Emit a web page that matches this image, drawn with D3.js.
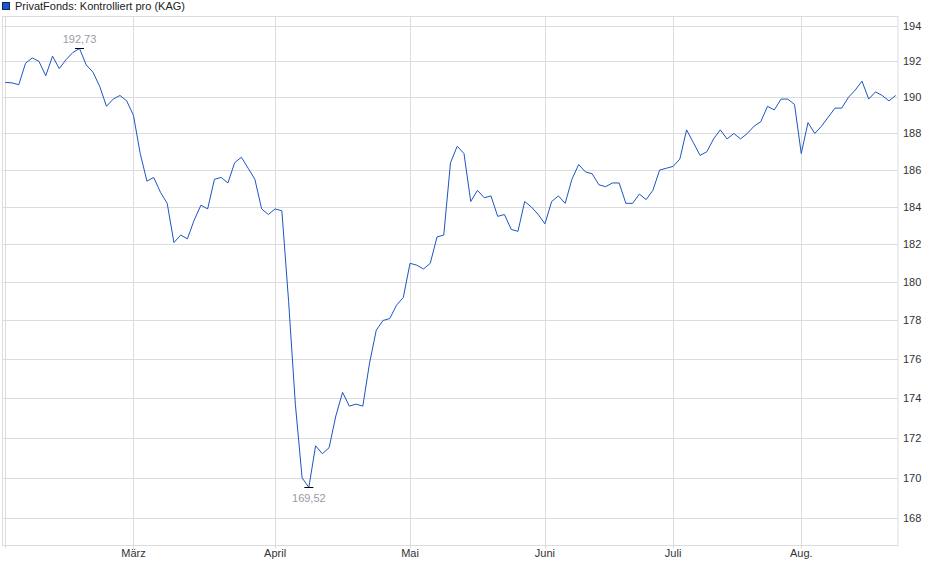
<!DOCTYPE html>
<html>
<head>
	<meta charset="UTF-8" />
	<title>PrivatFonds: Kontrolliert pro</title>
	<script src="https://d3js.org/d3.v7.min.js"></script>
	<style>
		body { margin: 0; background: #fff; }
		svg { display: block; font-family: "Liberation Sans", Arial, sans-serif; }
	</style>
</head>
<body>
	<svg id="chart" width="940" height="579"></svg>

	<script type="text/javascript">
	// series: one value per trading day
	const values = [
		190.83, 190.8, 190.7, 191.9, 192.2, 192.0, 191.2, 192.3, 191.6, 192.1,
		192.5, 192.73, 191.8, 191.4, 190.6, 189.5, 189.9, 190.1, 189.8, 189.0,
		186.9, 185.4, 185.6, 184.8, 184.2, 182.1, 182.5, 182.3, 183.3, 184.1,
		183.9, 185.5, 185.6, 185.3, 186.4, 186.7, 186.1, 185.5, 183.9, 183.6,
		183.9, 183.8, 179.0, 173.7, 170.0, 169.52, 171.6, 171.2, 171.5, 173.1,
		174.3, 173.6, 173.7, 173.6, 175.8, 177.5, 178.0, 178.1, 178.8, 179.2,
		181.0, 180.9, 180.7, 181.0, 182.4, 182.5, 186.4, 187.3, 186.9, 184.3,
		184.9, 184.5, 184.6, 183.5, 183.6, 182.8, 182.7, 184.3, 184.0, 183.6,
		183.1, 184.3, 184.6, 184.2, 185.5, 186.3, 185.9, 185.8, 185.2, 185.1,
		185.3, 185.3, 184.2, 184.2, 184.7, 184.4, 184.9, 186.0, 186.1, 186.2,
		186.6, 188.2, 187.5, 186.8, 187.0, 187.7, 188.2, 187.7, 188.0, 187.7,
		188.0, 188.4, 188.65, 189.5, 189.3, 189.9, 189.9, 189.6, 186.9, 188.6,
		188.0, 188.4, 188.9, 189.4, 189.4, 190.0, 190.4, 190.9, 189.9, 190.3,
		190.1, 189.8, 190.1
	]
	// month starts (index of first trading day)
	const monthLabels = ["März", "April", "Mai", "Juni", "Juli", "Aug."]
	const monthIdx = [19, 40, 60, 80, 99, 118]
	const yTicks = [168, 170, 172, 174, 176, 178, 180, 182, 184, 186, 188, 190, 192, 194]
	const seriesName = "PrivatFonds: Kontrolliert pro (KAG)"

	const lineBlue = "#1c56c2"
	const grid = "#dcdcdc"

	const plotL = 2.5, plotR = 898, plotT = 16, plotB = 545.5

	const x = d3.scaleLinear().domain([0, values.length - 1]).range([5.3, 895.7])
	const y = d3.scaleLog().domain([168, 194]).range([518.3, 26])

	const svg = d3.select("#chart")

	// legend
	svg.append("rect")
		.attr("x", 2.5).attr("y", 2.5).attr("width", 7).attr("height", 7)
		.style("fill", "#1f58c4").style("stroke", "#0d2a66")
	svg.append("text")
		.attr("x", 15).attr("y", 10)
		.style("font-size", "11px").style("fill", "#222")
		.text(seriesName)

	// horizontal grid
	svg.append("g").selectAll("line")
		.data(yTicks)
		.enter().append("line")
		.attr("x1", plotL).attr("x2", plotR)
		.attr("y1", d => Math.round(y(d)) + 0.5)
		.attr("y2", d => Math.round(y(d)) + 0.5)
		.style("stroke", grid)

	// vertical grid at month starts, plus first day
	svg.append("g").selectAll("line")
		.data([0].concat(monthIdx))
		.enter().append("line")
		.attr("x1", d => Math.round(x(d)) + 0.5)
		.attr("x2", d => Math.round(x(d)) + 0.5)
		.attr("y1", plotT).attr("y2", plotB + 3)
		.style("stroke", grid)

	// frame
	svg.append("rect")
		.attr("x", plotL).attr("y", plotT + 0.5)
		.attr("width", plotR - plotL).attr("height", plotB - plotT - 0.5)
		.style("fill", "none").style("stroke", grid)

	// y labels
	svg.append("g").selectAll("text")
		.data(yTicks)
		.enter().append("text")
		.attr("x", 903)
		.attr("y", d => y(d) + 4)
		.style("font-size", "11px").style("fill", "#333")
		.text(d => d)

	// x labels
	svg.append("g").selectAll("text")
		.data(monthIdx)
		.enter().append("text")
		.attr("x", d => x(d))
		.attr("y", 557)
		.attr("text-anchor", "middle")
		.style("font-size", "11px").style("fill", "#333")
		.text((d, i) => monthLabels[i])

	// line
	const line = d3.line()
		.x((d, i) => x(i))
		.y(d => y(d))

	svg.append("path")
		.datum(values)
		.attr("d", line)
		.style("fill", "none")
		.style("stroke", lineBlue)
		.style("stroke-width", 1)

	// high / low markers
	const hiIdx = d3.maxIndex(values), loIdx = d3.minIndex(values)
	const fmt = v => v.toFixed(2).replace(".", ",")
	const marks = [
		{i: hiIdx, dy: -5.5},
		{i: loIdx, dy: 14}
	]
	marks.forEach(m => {
		const mx = x(m.i), my = Math.round(y(values[m.i])) + 0.5
		svg.append("line")
			.attr("x1", mx - 4.5).attr("x2", mx + 4.5)
			.attr("y1", my).attr("y2", my)
			.style("stroke", "#000")
		svg.append("text")
			.attr("x", mx)
			.attr("y", my + m.dy)
			.attr("text-anchor", "middle")
			.style("font-size", "11px").style("fill", "#9a9aa6")
			.text(fmt(values[m.i]))
	})
	</script>
</body>
</html>
